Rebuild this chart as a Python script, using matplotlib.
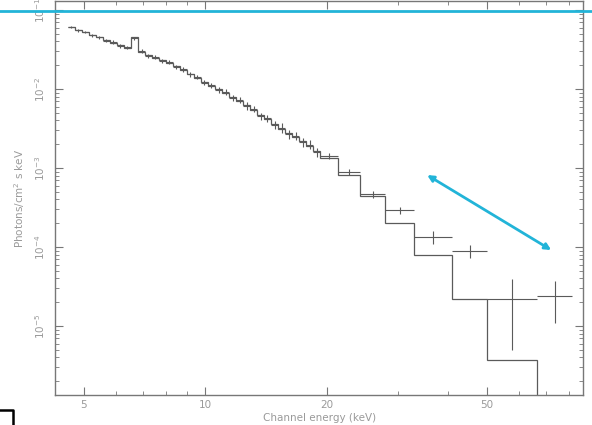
import matplotlib
matplotlib.use("Agg")
import matplotlib.pyplot as plt
import numpy as np
from matplotlib.lines import Line2D
from matplotlib.ticker import LogLocator, LogFormatterSciNotation, FixedLocator, NullFormatter

# Channel boundaries (keV)
edges = [4.56, 4.75, 4.94, 5.14, 5.35, 5.57, 5.80, 6.04, 6.28, 6.54, 6.81,
         7.09, 7.37, 7.67, 7.99, 8.31, 8.65, 9.01, 9.37, 9.76, 10.15, 10.57,
         11.0, 11.45, 11.92, 12.40, 12.91, 13.44, 13.98, 14.55, 15.15, 15.77,
         16.41, 17.08, 17.78, 18.50, 19.26,
         21.3, 24.2, 27.9, 33.0, 40.9, 50.0, 66.5, 81.3]

# Folded model per channel (photons / cm^2 s keV)
model = [0.0604, 0.0562, 0.0521, 0.0483, 0.0449, 0.0417, 0.0388, 0.0360,
         0.0330, 0.0455, 0.0294, 0.0269, 0.0247, 0.0233, 0.0213, 0.0193,
         0.0174, 0.0157, 0.0138, 0.0123, 0.0109, 0.0100, 0.0089, 0.00792,
         0.00705, 0.00627, 0.00542, 0.00469, 0.00417, 0.00361, 0.00312,
         0.00277, 0.00247, 0.00220, 0.00190, 0.00164,
         0.00134, 0.000815, 0.000443, 0.000201, 7.9e-5, 2.2e-5, 3.7e-6, 6e-7]

# Unfolded data per channel
flux = [0.0610, 0.0555, 0.0528, 0.0478, 0.0455, 0.0410, 0.0393, 0.0352,
        0.0338, 0.0440, 0.0300, 0.0264, 0.0252, 0.0228, 0.0218, 0.0189,
        0.0178, 0.0153, 0.0142, 0.0120, 0.0112, 0.0097, 0.0092, 0.00770,
        0.00730, 0.00610, 0.00560, 0.00455, 0.00430, 0.00350, 0.00325,
        0.00268, 0.00255, 0.00212, 0.00198, 0.00158,
        0.00142, 0.00089, 0.000469, 0.000294, 0.000134, 8.9e-5, 2.2e-5, 2.4e-5]

flux_err = [0.0024, 0.0022, 0.0021, 0.0019, 0.0020, 0.0018, 0.0020, 0.0018,
            0.0017, 0.0022, 0.0017, 0.0015, 0.0015, 0.0014, 0.0013, 0.0012,
            0.0012, 0.0011, 0.0010, 0.0009, 0.00084, 0.00078, 0.00074, 0.00065,
            0.00066, 0.00073, 0.00050, 0.00046, 0.00043, 0.00039, 0.00049,
            0.00032, 0.00031, 0.00028, 0.00026, 0.00022,
            0.00012, 0.00008, 0.00005, 0.00003, 0.000026, 0.000016, 0.000017, 0.000013]

x_ticks = [5, 10, 20, 50]
x_tick_labels = ["5", "10", "20", "50"]

# Power-law slope indicator (keV, flux)
arrow_start = (35.5, 8.15e-4)
arrow_end = (72.1, 9.16e-5)

ink = "#5a5a5a"
label_col = "#9a9a9a"
cyan = "#22b4d8"

fig = plt.figure(figsize=(5.92, 4.25), dpi=100)
ax = fig.add_axes([0.093, 0.0706, 0.892, 0.927])
ax.set_xscale("log")
ax.set_yscale("log")
ax.set_xlim(4.24, 86.5)
ax.set_ylim(1.34e-6, 0.130)

e = np.array(edges)
lo, hi = e[:-1], e[1:]
centers = np.sqrt(lo * hi)

ax.stairs(model, edges, baseline=None, color=ink, lw=0.9)
ax.errorbar(centers, flux, xerr=[centers - lo, hi - centers], yerr=flux_err,
            fmt="none", ecolor=ink, elinewidth=0.8, capsize=0)

ax.annotate("", xy=arrow_end, xytext=arrow_start,
            arrowprops=dict(arrowstyle="<|-|>", color=cyan, lw=2.0,
                            mutation_scale=9, shrinkA=0, shrinkB=0))

ax.xaxis.set_major_locator(FixedLocator(x_ticks))
ax.set_xticklabels(x_tick_labels)
ax.xaxis.set_minor_locator(LogLocator(base=10, subs=np.arange(2, 10)))
ax.xaxis.set_minor_formatter(NullFormatter())
ax.yaxis.set_major_locator(LogLocator(base=10))
ax.yaxis.set_major_formatter(LogFormatterSciNotation())
ax.yaxis.set_minor_locator(LogLocator(base=10, subs=np.arange(2, 10)))
ax.yaxis.set_minor_formatter(NullFormatter())

ax.tick_params(which="both", direction="in", top=True, right=True,
               color="#777777", labelcolor=label_col, labelsize=7.5)
ax.tick_params(which="major", length=6, width=0.8)
ax.tick_params(which="minor", length=3, width=0.6)
ax.tick_params(axis="y", labelrotation=90, pad=6)
for lab in ax.get_yticklabels():
    lab.set_va("center")
for sp in ax.spines.values():
    sp.set_color("#777777")
    sp.set_linewidth(1.0)

ax.set_xlabel("Channel energy (keV)", color=label_col, fontsize=7.5, labelpad=2)
ax.set_ylabel("Photons/cm$^2$ s keV", color=label_col, fontsize=7.5, labelpad=4)

# Cyan rule across the page and corner mark
fig.add_artist(Line2D([0, 1], [0.974, 0.974], transform=fig.transFigure,
                      color=cyan, lw=2.0))
fig.add_artist(Line2D([0, 0.022, 0.022], [0.035, 0.035, 0.0],
                      transform=fig.transFigure, color="black", lw=1.8))

fig.savefig("out.png", dpi=100)
